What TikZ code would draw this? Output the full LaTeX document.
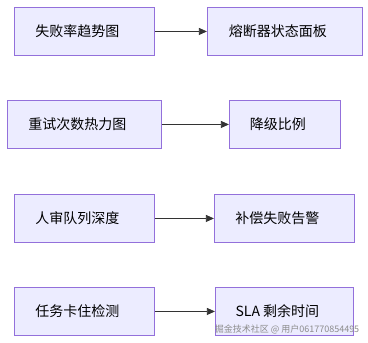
\documentclass[tikz,border=0pt]{standalone}
\usepackage{fontspec}
\setmainfont{Noto Sans CJK SC}
\usetikzlibrary{arrows.meta,positioning}
\definecolor{mmfill}{HTML}{ECECFF}
\definecolor{mmline}{HTML}{9370DB}
\definecolor{mmarrow}{HTML}{333333}

\begin{document}
\begin{tikzpicture}[
  x=1pt,y=-1pt,
  font=\fontsize{14pt}{16pt}\selectfont,
  box/.style={draw=mmline,fill=mmfill,line width=0.9pt,minimum height=48pt,inner sep=0pt,
              anchor=north west,execute at end node={\hspace*{14pt}}},
  ar/.style={-{Triangle[length=8pt,width=7pt]},mmarrow,line width=0.8pt}
]
\fill[white] (0,0) rectangle (368,343);
\useasboundingbox (0,0) rectangle (368,343);

\node[box,minimum width=140pt] (rate) at (14,7) {失败率趋势图};
\node[box,minimum width=155pt,right=52pt of rate] (fuse) {熔断器状态面板};

\node[box,minimum width=154pt] (retry) at (7,100) {重试次数热力图};
\node[box,minimum width=111pt,right=67pt of retry] (degrade) {降级比例};

\node[box,minimum width=140pt] (queue) at (14,194) {人审队列深度};
\node[box,minimum width=140pt,right=59pt of queue] (comp) {补偿失败告警};

\node[box,minimum width=140pt] (stuck) at (14,287) {任务卡住检测};
\node[box,minimum width=138pt,right=60pt of stuck] (sla) {SLA 剩余时间};

\draw[ar] (rate) -- (fuse);
\draw[ar] (retry) -- (degrade);
\draw[ar] (queue) -- (comp);
\draw[ar] (stuck) -- (sla);

\node[font=\fontsize{9pt}{10pt}\selectfont,text=black!45] (wm) at (287,329)
  {掘金技术社区 @ 用户061770854495};
\end{tikzpicture}
\end{document}
